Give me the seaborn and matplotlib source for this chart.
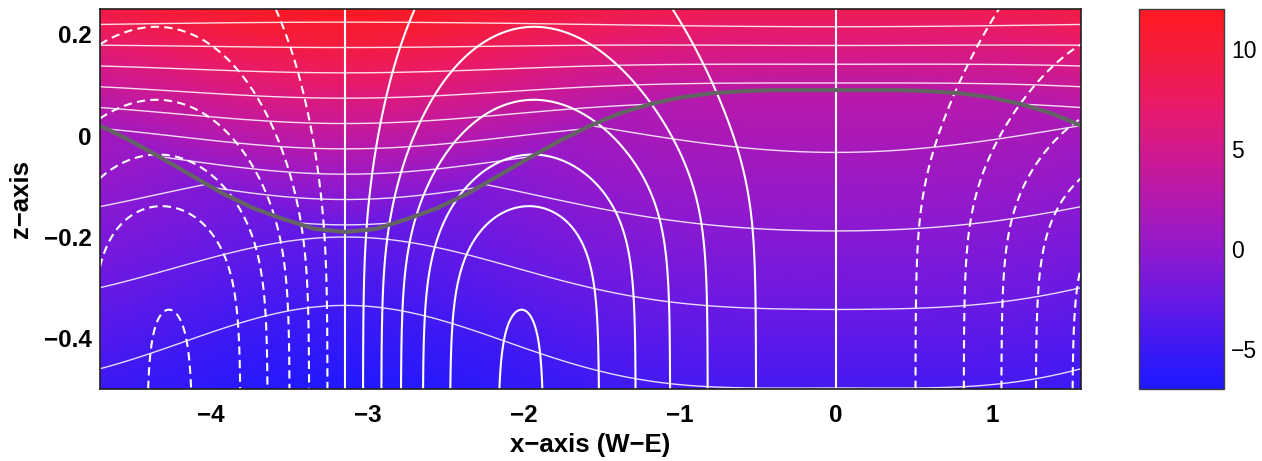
import numpy as np
import matplotlib
matplotlib.use("Agg")
import matplotlib.pyplot as plt
from matplotlib.colors import LinearSegmentedColormap
import seaborn as sns
import pandas as pd

# ---------------- values ----------------
x_limits = [-3 * np.pi / 2, np.pi / 2]
z_limits = [-0.5, 0.25]
x_ticks = [-4, -3, -2, -1, 0, 1]
z_ticks = [-0.4, -0.2, 0, 0.2]
z_ticklabels = ["\u22120.4", "\u22120.2", "0", "0.2"]
cbar_ticks = [-5, 0, 5, 10]
cbar_limits = [-7, 12]

# free surface (grey line), sampled every pi/16 from x=-3pi/2 to x=pi/2
surface_x = np.linspace(-3 * np.pi / 2, np.pi / 2, 33)
surface_z = [0.020, -0.010, -0.044, -0.079, -0.114, -0.143, -0.165, -0.184, -0.190,
             -0.184, -0.165, -0.143, -0.114, -0.079, -0.044, -0.010, 0.020,
             0.045, 0.063, 0.076, 0.084, 0.088, 0.090, 0.090, 0.090,
             0.090, 0.090, 0.088, 0.084, 0.076, 0.063, 0.045, 0.020]

# colour map anchors
cmap_values = [-7, -5, -2.5, 0, 2.5, 5, 7.5, 10, 12]
cmap_colors = ["#1e19ff", "#3c19f5", "#6919e4", "#9119cd", "#b419af", "#d2198c",
               "#eb1b64", "#f51c3a", "#ff1923"]

# colour field: value at the surface and vertical gradients (air / water)
colour_surface = [1.1, 21.0]        # value at surface = a + b * eta
colour_gradient = [34.0, 12.5]      # per unit z above / below the surface

# bold contour field (solid = positive, dashed = negative)
bold_harmonics = [-1.0, 0.348]      # coefficients of sin(x), sin(2x)
bold_decay = [2.85, 0.07]           # decay rate and transition width
bold_ref_level = [-0.155, 0.055]    # transition height: a + b*cos(x)
bold_step = 0.192
bold_n = list(range(-6, 7))

# thin contour lines: air lines  z = zr(x) - n*s(x), water lines z = b(x) - n*sw(x)
air_ref = [0.2195, -0.0045]
air_spacing = [0.04225, -0.0065, 0.00125]
air_n = list(range(-1, 10))
water_ref = [0.17175, -0.0415, -0.00825]
water_spacing = [0.1525, 0.01, -0.0075]
water_n = [1, 2, 3, 4]

# ---------------- build the fields ----------------
xg = np.linspace(x_limits[0], x_limits[1], 801)
zg = np.linspace(z_limits[0], z_limits[1], 451)
X, Z = np.meshgrid(xg, zg)
eta = np.interp(X, surface_x, surface_z)
above = Z >= eta

colour = colour_surface[0] + colour_surface[1] * eta + np.where(
    above, colour_gradient[0], colour_gradient[1]) * (Z - eta)

fx = bold_harmonics[0] * np.sin(X) + bold_harmonics[1] * np.sin(2 * X)
href = bold_ref_level[0] + bold_ref_level[1] * np.cos(X)
k, w = bold_decay
G = np.exp(-k * w * np.logaddexp(0.0, (Z - href) / w))
F = fx * G
bold_levels = [bold_step * n for n in bold_n]
bold_styles = [(0, (4.0, 2.5)) if n < 0 else "solid" for n in bold_n]

zr = air_ref[0] + air_ref[1] * np.cos(X)
sa = air_spacing[0] + air_spacing[1] * np.cos(X) + air_spacing[2] * np.cos(2 * X)
Ta = np.ma.masked_where(~above, (zr - Z) / sa)
bw = water_ref[0] + water_ref[1] * np.cos(X) + water_ref[2] * np.cos(2 * X)
sw = water_spacing[0] + water_spacing[1] * np.cos(X) + water_spacing[2] * np.cos(2 * X)
Tw = np.ma.masked_where(above, (bw - Z) / sw)

# ---------------- draw ----------------
sns.set_style("white")
plt.rcParams["font.family"] = ["Liberation Sans", "DejaVu Sans"]
plt.rcParams["text.color"] = "black"
plt.rcParams["axes.labelcolor"] = "black"
plt.rcParams["xtick.color"] = "black"
plt.rcParams["ytick.color"] = "black"

cmap = LinearSegmentedColormap.from_list(
    "wave",
    [((v - cbar_limits[0]) / (cbar_limits[1] - cbar_limits[0]), c)
     for v, c in zip(cmap_values, cmap_colors)])

fig = plt.figure(figsize=(12.62, 4.61), dpi=100)
ax = fig.add_axes([100 / 1262, 72 / 461, 981 / 1262, 380 / 461])
cax = fig.add_axes([1139 / 1262, 72 / 461, 85 / 1262, 380 / 461])

im = ax.imshow(colour, extent=[x_limits[0], x_limits[1], z_limits[0], z_limits[1]],
               origin="lower", aspect="auto", cmap=cmap,
               vmin=cbar_limits[0], vmax=cbar_limits[1], interpolation="bilinear")

ax.contour(X, Z, Ta, levels=air_n, colors="white", linewidths=1.0, alpha=0.85)
ax.contour(X, Z, Tw, levels=water_n, colors="white", linewidths=1.0, alpha=0.85)
ax.contour(X, Z, F, levels=bold_levels, colors="white", linewidths=1.5,
           linestyles=bold_styles)

surf = pd.DataFrame({"x": surface_x, "z": surface_z})
sns.lineplot(data=surf, x="x", y="z", ax=ax, color="#646464", linewidth=3.0,
             sort=False, estimator=None)

ax.set_xlim(x_limits)
ax.set_ylim(z_limits)
ax.set_xticks(x_ticks)
ax.set_xticklabels([f"{t}".replace("-", "\u2212") for t in x_ticks])
ax.set_yticks(z_ticks)
ax.set_yticklabels(z_ticklabels)
ax.tick_params(axis="x", length=0, pad=11, labelsize=17.5, labelcolor="black")
ax.tick_params(axis="y", length=0, pad=6, labelsize=17.5, labelcolor="black")
for lab in ax.get_xticklabels() + ax.get_yticklabels():
    lab.set_fontweight("bold")
ax.set_xlabel("x\u2212axis (W\u2212E)", fontsize=18.5, fontweight="bold", labelpad=4,
              color="black")
ax.set_ylabel("z\u2212axis", fontsize=18.5, fontweight="bold", labelpad=8,
              color="black")
for sp in ax.spines.values():
    sp.set_color("#202020")
    sp.set_linewidth(1.2)

cb = fig.colorbar(im, cax=cax, ticks=cbar_ticks)
cb.outline.set_edgecolor("#404040")
cb.outline.set_linewidth(1.0)
cax.tick_params(direction="in", length=3, width=0.8, left=True, right=True,
                labelsize=16.5, pad=5, labelcolor="black", color="black")
cax.set_yticklabels([f"{t}".replace("-", "\u2212") for t in cbar_ticks])

fig.savefig("out.png", dpi=100)
